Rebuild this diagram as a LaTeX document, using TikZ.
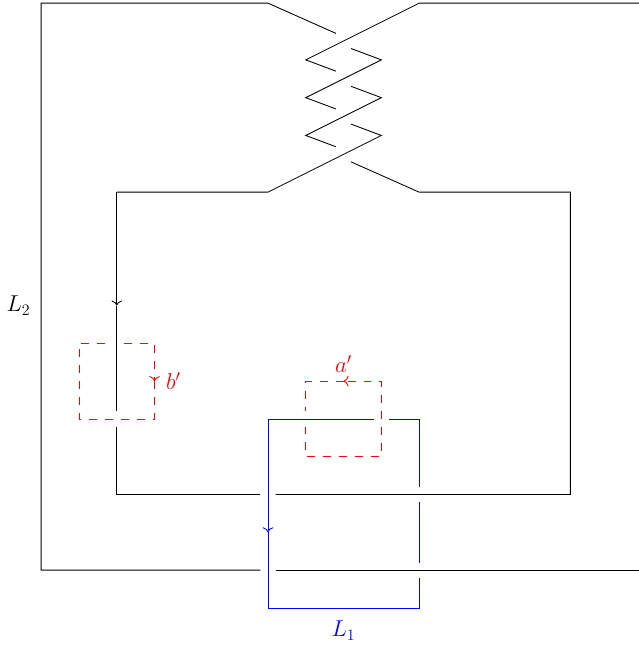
\documentclass[tikz,border=0pt]{standalone}
\usetikzlibrary{arrows.meta}
\tikzset{
  tipline/.style={-{Computer Modern Rightarrow[scale=1.25]}},
  dashline/.style={red,dash pattern=on 6pt off 6pt},
  blueline/.style={blue},
  knotlabel/.style={font=\fontsize{16.5}{20}\selectfont}
}
\begin{document}
\begin{tikzpicture}[
  line width=0.65pt,
  line cap=butt,
  line join=miter
]
  \def\Xr{15.815}
  \useasboundingbox (-1.089,-1.98) rectangle (\Xr,15.084);

  % Внешний контур
  \draw (7.8,14.2)--(6,15)--(0,15)--(0,0)--(5.8,0);
  \draw (6.2,0)--(\Xr,0);
  \draw (\Xr,15)--(10,15)--(7,13.5)--(7.8,13.2);

  % Косичка
  \draw (8.2,13.8)--(9,13.5)--(7,12.5)--(7.8,12.2);
  \draw (8.2,12.8)--(9,12.5)--(7,11.5)--(7.8,11.2);
  \draw (8.2,11.8)--(9,11.5)--(6,10)--(2,10);

  % Внутренний контур
  \draw[tipline] (2,10)--(2,7);
  \draw (2,7)--(2,4.2);
  \draw (2,3.8)--(2,2)--(5.8,2);
  \draw (6.2,2)--(14,2)--(14,10)--(10,10)--(8.2,10.8);

  % L_1
  \draw[blueline,tipline] (8.8,4)--(6,4)--(6,1);
  \draw[blueline] (6,1)--(6,-1)--(10,-1)--(10,-0.2);
  \draw[blueline] (10,0.2)--(10,1.8);
  \draw[blueline] (10,2.2)--(10,4)--(9.2,4);

  % Петля a'
  \draw[dashline,tipline] (7,3.8)--(7,3)--(9,3)--(9,5)--(8,5);
  \draw[dashline] (8,5)--(7,5)--(7,4.2);

  % Петля b'
  \draw[dashline,tipline] (2.2,6)--(3,6)--(3,5);
  \draw[dashline] (3,5)--(3,4)--(1,4)--(1,6)--(1.8,6);

  \node[knotlabel,blue] (lone) at (8,-1.6) {$L_1$};
  \node[knotlabel] (ltwo) at (-0.6,7) {$L_2$};
  \node[knotlabel,red] (aprime) at (8,5.45) {$a'$};
  \node[knotlabel,red] (bprime) at (3.5,5) {$b'$};
\end{tikzpicture}
\end{document}
